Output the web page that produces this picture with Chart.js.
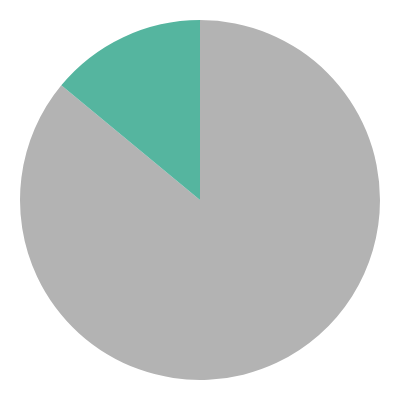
<!DOCTYPE html>
<html>
<head>
<meta charset="utf-8">
<script src="https://cdn.jsdelivr.net/npm/chart.js@4"></script>
<style>
  html, body { margin: 0; padding: 0; background: #fff; }
  #wrap { width: 400px; height: 400px; }
</style>
</head>
<body>
<div id="wrap"><canvas id="piecanvas"></canvas></div>
<script>
var sliceLabels = ['Other', 'Share'];
var sliceValues = [86, 14];
var sliceColors = ['#b3b3b3', '#55b59f'];

var pieData = {
    labels: sliceLabels,
    datasets: [{
        data: sliceValues,
        backgroundColor: sliceColors,
        borderWidth: 0
    }]
};

var pieOptions = {
    responsive: true,
    maintainAspectRatio: false,
    animation: false,
    layout: { padding: 20 },
    plugins: {
        legend: { display: false },
        tooltip: { enabled: false }
    }
};

var ctx = document.getElementById('piecanvas').getContext('2d');
window.myPie = new Chart(ctx, {
    type: 'pie',
    data: pieData,
    options: pieOptions
});
</script>
</body>
</html>
